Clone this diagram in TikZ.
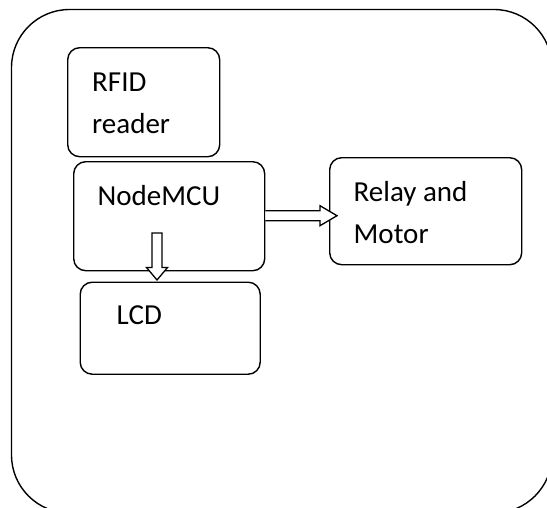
\documentclass[tikz,border=0pt]{standalone}
\usepackage{fontspec}
\setmainfont{Carlito}
\usetikzlibrary{calc}
\begin{document}
\begin{tikzpicture}[x=1pt,y=-1pt,
  box/.style={draw,line width=1.4pt,rounded corners=12pt,inner sep=0pt,anchor=north west},
  lbl/.style={inner sep=0pt,anchor=base west,align=left,font=\fontsize{29}{42}\selectfont},
  blk/.style={draw,line width=1.3pt,fill=white,line join=miter}]
\useasboundingbox (0,0) rectangle (547,507);
\begin{scope}
\clip (0,0) rectangle (547,507);
\draw[line width=1.4pt,rounded corners=58pt] (11.5,9.5) rectangle (552,513);
\end{scope}
\node[box,minimum width=152pt,minimum height=109pt] (rfid) at (67,47) {};
\node[box,minimum width=191pt,minimum height=109pt] (mcu) at (73,161) {};
\node[box,minimum width=192pt,minimum height=107pt] (relay) at (329,157) {};
\node[box,minimum width=180pt,minimum height=92pt] (lcd) at (79.5,281.5) {};
\node[lbl] (trfid) at (92,133) {RFID\\reader};
\node[lbl] (tmcu) at (97.5,205.5) {NodeMCU};
\node[lbl] (trelay) at (353.5,243) {Relay and\\Motor};
\node[lbl] (tlcd) at (116.5,324.5) {LCD};
% right block arrow
\coordinate (ra0) at ($(mcu.east)+(0,-0.5)$);
\coordinate (ra1) at ($(relay.west |- ra0)+(8,0)$);
\draw[blk] ($(ra0)+(0,-5)$) -- ($(ra1)+(-17,-5)$) -- ($(ra1)+(-17,-10)$) -- (ra1)
  -- ($(ra1)+(-17,10)$) -- ($(ra1)+(-17,5)$) -- ($(ra0)+(0,5)$);
% down block arrow
\coordinate (da0) at ($(mcu.north west)+(84,72)$);
\coordinate (da1) at ($(lcd.north west)+(77.5,-1.5)$);
\draw[blk] ($(da0)+(-5,0)$) -- ($(da1)+(-5,-12.5)$) -- ($(da1)+(-10.5,-12.5)$) -- (da1)
  -- ($(da1)+(10.5,-12.5)$) -- ($(da1)+(5,-12.5)$) -- ($(da0)+(5,0)$) -- cycle;
\end{tikzpicture}
\end{document}
